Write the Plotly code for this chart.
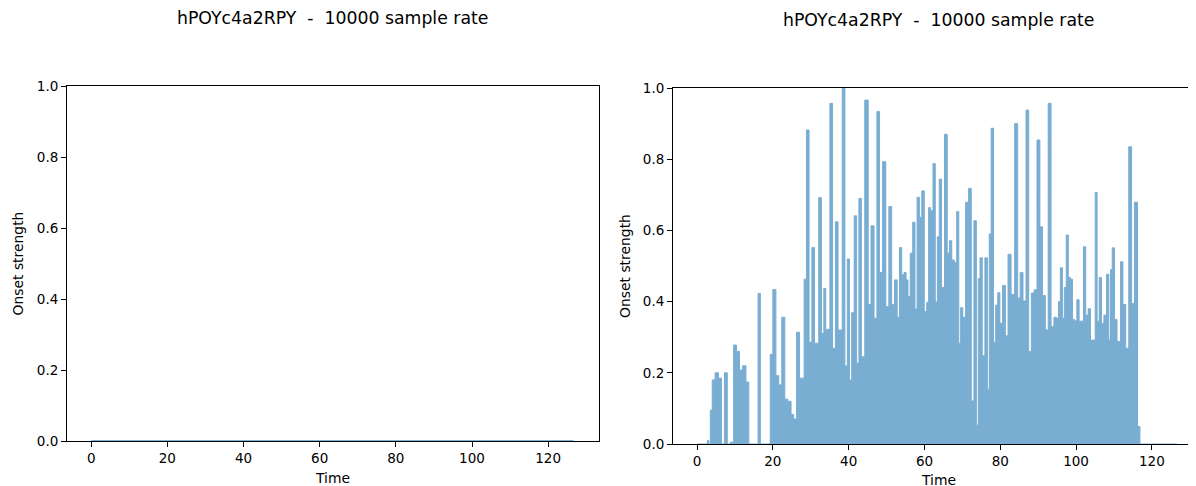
import plotly.graph_objects as go

# ---------------- data ----------------
title_text = "hPOYc4a2RPY\u00a0\u00a0-\u00a0\u00a010000 sample rate"

# left panel: onset strength is flat zero over the whole clip
left_times = [0.0, 126.7]
left_strength = [0.0, 0.0]

# right panel: onset strength envelope
right_times = [
    0.0, 2.5, 2.9, 3.3, 3.7, 4.3, 5.2, 6.1, 6.8, 7.65, 8.3, 9.3,
    10.0, 10.8, 11.6, 12.5, 13.3, 14.0, 15.8, 16.4, 17.0, 19.0,
    19.6, 20.4, 21.2, 21.9, 22.8, 23.5, 24.4, 25.2, 25.8, 26.7,
    27.4, 28.0, 28.5, 29.2, 29.9, 30.7, 31.3, 31.8, 32.4, 33.2,
    33.7, 34.2, 34.7, 35.4, 36.1, 36.9, 37.5, 38.0, 38.6, 39.4,
    39.9, 40.5, 41.1, 41.8, 42.4, 43.0, 43.7, 44.8, 45.5, 46.3,
    47.1, 47.8, 48.5, 49.4, 50.2, 51.0, 51.7, 52.5, 53.1, 53.7,
    54.3, 54.9, 55.4, 55.9, 56.6, 57.2, 57.8, 58.3, 59.0, 59.6,
    60.3, 60.9, 61.3, 61.9, 62.6, 63.1, 63.7, 64.1, 64.9, 65.7,
    66.3, 66.9, 67.5, 68.2, 68.8, 69.3, 69.8, 70.4, 71.3, 72.0,
    72.7, 73.4, 74.0, 74.4, 74.9, 75.6, 76.3, 76.9, 77.3, 77.9,
    78.5, 79.1, 79.6, 80.2, 81.0, 81.7, 82.4, 83.3, 84.3, 84.9,
    85.6, 86.4, 87.2, 87.8, 88.6, 89.3, 90.1, 90.8, 91.5, 92.3,
    93.0, 93.8, 94.5, 95.1, 95.6, 96.1, 96.7, 97.1, 97.7, 98.2,
    98.8, 99.3, 99.9, 100.5, 101.1, 101.7, 102.2, 102.9, 103.5, 104.1,
    104.8, 105.3, 105.8, 106.4, 107.0, 107.7, 108.4, 108.9, 109.3, 109.8,
    110.5, 111.1, 111.5, 112.0, 112.7, 113.5, 114.3, 115.0, 115.8, 116.6,
    117.1, 126.7,
]
right_strength = [
    0.0, 0.0, 0.01, 0.0, 0.095, 0.18, 0.20, 0.185, 0.0, 0.20, 0.0, 0.005,
    0.278, 0.26, 0.208, 0.22, 0.174, 0.0, 0.0, 0.423, 0.0, 0.0,
    0.252, 0.434, 0.192, 0.166, 0.356, 0.126, 0.12, 0.083, 0.07, 0.314,
    0.185, 0.185, 0.463, 0.882, 0.286, 0.552, 0.283, 0.283, 0.692, 0.311,
    0.437, 0.322, 0.322, 0.957, 0.269, 0.624, 0.32, 0.32, 1.0, 0.219,
    0.52, 0.18, 0.369, 0.641, 0.227, 0.69, 0.245, 0.966, 0.392, 0.613,
    0.353, 0.934, 0.482, 0.793, 0.386, 0.667, 0.392, 0.461, 0.356, 0.552,
    0.475, 0.482, 0.461, 0.414, 0.536, 0.623, 0.379, 0.693, 0.637, 0.711,
    0.372, 0.398, 0.664, 0.655, 0.788, 0.399, 0.582, 0.744, 0.44, 0.87,
    0.536, 0.571, 0.517, 0.51, 0.653, 0.283, 0.383, 0.356, 0.679, 0.718,
    0.121, 0.627, 0.053, 0.465, 0.523, 0.248, 0.523, 0.154, 0.59, 0.887,
    0.286, 0.39, 0.425, 0.339, 0.445, 0.304, 0.533, 0.42, 0.9, 0.41,
    0.482, 0.402, 0.938, 0.26, 0.424, 0.433, 0.854, 0.61, 0.417, 0.32,
    0.957, 0.33, 0.356, 0.353, 0.40, 0.495, 0.353, 0.44, 0.587, 0.468,
    0.463, 0.35, 0.346, 0.405, 0.345, 0.345, 0.554, 0.362, 0.38, 0.292,
    0.292, 0.707, 0.345, 0.468, 0.339, 0.362, 0.477, 0.292, 0.49, 0.551,
    0.35, 0.288, 0.288, 0.512, 0.392, 0.269, 0.835, 0.395, 0.679, 0.049,
    0.0, 0.0,
]

x_ticks = [0, 20, 40, 60, 80, 100, 120]
y_ticks = [0.0, 0.2, 0.4, 0.6, 0.8, 1.0]

# ---------------- figure ----------------
W, H = 1196, 486
OFF = 8  # page body margin: the figure is drawn 8px in from the window corner
blue_a = "rgba(31,119,180,0.6)"
blue_flat = "rgb(121,173,210)"  # same tone as blue_a over white
font_family = "DejaVu Sans"

fig = go.Figure()

fig.add_trace(go.Scatter(
    x=left_times, y=left_strength, mode="lines",
    line=dict(color="rgba(31,119,180,0.75)", width=1.5),
    xaxis="x", yaxis="y", showlegend=False, hoverinfo="skip",
))

fig.add_trace(go.Scatter(
    x=right_times, y=right_strength, mode="lines",
    line=dict(color=blue_flat, width=1, shape="hvh"),
    fill="tozeroy", fillcolor=blue_flat,
    xaxis="x2", yaxis="y2", showlegend=False, hoverinfo="skip",
))

def px_x(p):
    return (p - OFF) / W

def px_y(p):
    return 1 - (p - OFF) / H

axis_common = dict(
    showgrid=False, zeroline=False, showline=True, linecolor="black", linewidth=1,
    ticks="outside", ticklen=5, tickwidth=1, tickcolor="black", automargin=False,
    tickfont=dict(family=font_family, size=13.5, color="black"),
)

right_px_per_unit = 3.79
right_end_px = W + OFF  # right panel runs past the window edge

fig.update_layout(
    template="none",
    width=W, height=H,
    margin=dict(l=0, r=0, t=0, b=0, pad=0),
    paper_bgcolor="white", plot_bgcolor="white",
    font=dict(family=font_family, color="black"),
    xaxis=dict(domain=[px_x(67), px_x(599)], range=[-6.35, 133.35],
               tickvals=x_ticks, ticktext=[str(v) for v in x_ticks],
               mirror=True, anchor="y", **axis_common),
    yaxis=dict(domain=[px_y(441), px_y(86)], range=[0, 1],
               tickvals=y_ticks, ticktext=[f"{v:.1f}" for v in y_ticks],
               mirror=True, anchor="x", **axis_common),
    xaxis2=dict(domain=[px_x(673), 1.0],
                range=[-6.35, -6.35 + (right_end_px - 673) / right_px_per_unit],
                tickvals=x_ticks, ticktext=[str(v) for v in x_ticks],
                mirror=True, anchor="y2", **axis_common),
    yaxis2=dict(domain=[px_y(444), px_y(88)], range=[0, 1],
                tickvals=y_ticks, ticktext=[f"{v:.1f}" for v in y_ticks],
                mirror=True, anchor="x2", **axis_common),
)

annos = [
    dict(text=title_text, x=px_x(332), y=px_y(18), size=17.3),
    dict(text=title_text, x=px_x(938), y=px_y(20), size=17.3),
    dict(text="Time", x=px_x(332), y=px_y(478), size=13.9),
    dict(text="Time", x=px_x(938), y=px_y(480), size=13.9),
]
for a in annos:
    fig.add_annotation(text=a["text"], x=a["x"], y=a["y"], xref="paper", yref="paper",
                       xanchor="center", yanchor="middle", showarrow=False,
                       font=dict(family=font_family, size=a["size"], color="black"))
for xc, yc in [(18, 263.5), (625, 266)]:
    fig.add_annotation(text="Onset strength", x=px_x(xc), y=px_y(yc), xref="paper", yref="paper",
                       xanchor="center", yanchor="middle", showarrow=False, textangle=-90,
                       font=dict(family=font_family, size=13.9, color="black"))

fig.write_html("out.html")
